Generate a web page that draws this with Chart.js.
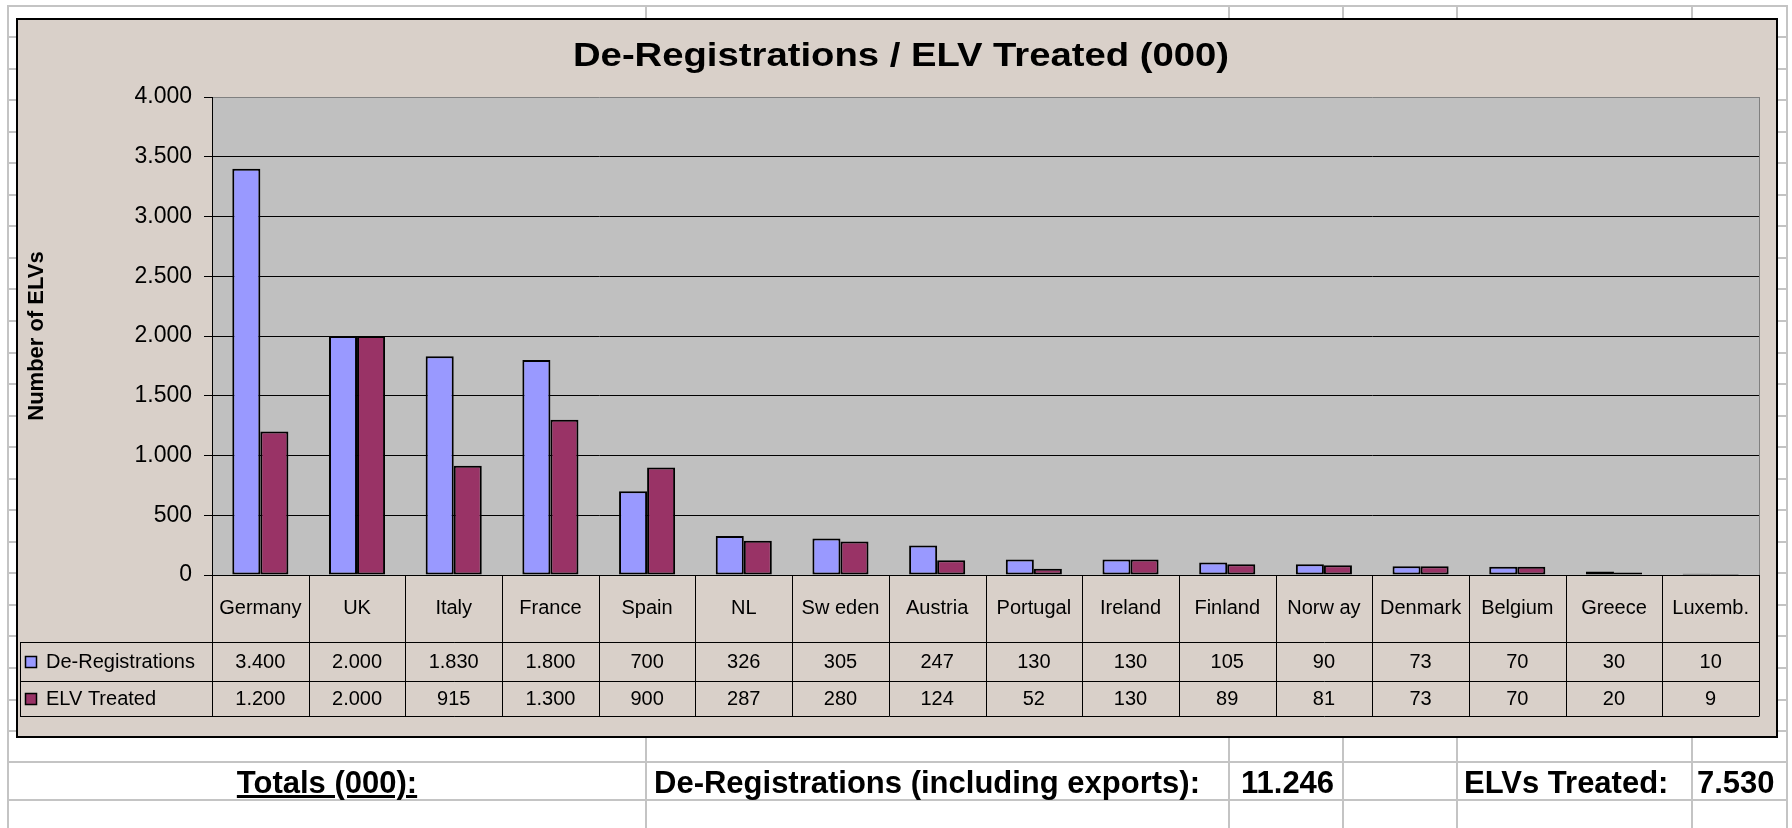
<!DOCTYPE html>
<html>
<head>
<meta charset="utf-8">
<script src="https://cdn.jsdelivr.net/npm/chart.js@4/dist/chart.umd.min.js"></script>
<style>
  html, body { margin: 0; padding: 0; background: #fff; width: 1792px; height: 828px; overflow: hidden;
               font-family: "Liberation Sans", Arial, sans-serif; }
  #sheet { position: absolute; left: 0; top: 0; width: 1792px; height: 828px; }
  .hl { position: absolute; height: 2px; background: #c4c4c4; }
  .vl { position: absolute; width: 2px; background: #c4c4c4; }
  #chart { position: absolute; left: 0; top: 0; }
  .tot { position: absolute; top: 764px; height: 38px; line-height: 38px; font-weight: bold;
         font-size: 31px; color: #000; white-space: nowrap; }
</style>
</head>
<body>
<div id="sheet"></div>
<canvas id="chart" width="1792" height="828"></canvas>
<div class="tot" style="left:8px;width:638px;text-align:center;text-decoration:underline">Totals (000):</div>
<div class="tot" style="left:654px">De-Registrations (including exports):</div>
<div class="tot" id="tot-dereg" style="left:1241px"></div>
<div class="tot" style="left:1464px">ELVs Treated:</div>
<div class="tot" id="tot-elv" style="left:1697px"></div>

<script>
const countries = ['Germany', 'UK', 'Italy', 'France', 'Spain', 'NL', 'Sw eden', 'Austria',
                   'Portugal', 'Ireland', 'Finland', 'Norw ay', 'Denmark', 'Belgium', 'Greece', 'Luxemb.'];
const deRegistrations = [3400, 2000, 1830, 1800, 700, 326, 305, 247, 130, 130, 105, 90, 73, 70, 30, 10];
const elvTreated      = [1200, 2000, 915, 1300, 900, 287, 280, 124, 52, 130, 89, 81, 73, 70, 20, 9];
const yTicks = [0, 500, 1000, 1500, 2000, 2500, 3000, 3500, 4000];

const FONT = '"Liberation Sans", Arial, sans-serif';
const BLUE = '#9999FF';
const MAROON = '#993366';

// dot as thousands separator, like the source sheet
const fmt = v => String(v).replace(/\B(?=(\d{3})+(?!\d))/g, '.');
const sum = arr => arr.reduce((s, v) => s + v, 0);

document.getElementById('tot-dereg').textContent = fmt(sum(deRegistrations));
document.getElementById('tot-elv').textContent = fmt(sum(elvTreated));

// ── Spreadsheet grid behind the chart ──────────────────────────────────────
(function drawSheet() {
  const sheet = document.getElementById('sheet');
  const rows = [5];
  for (let k = 0; k <= 22; k++) rows.push(Math.round(36 + 31.55 * k));
  rows.push(761, 799);
  const cols = [7, 645, 1228, 1342, 1456, 1691, 1786];
  for (const y of rows) {
    const d = document.createElement('div');
    d.className = 'hl';
    d.style.cssText = `left:7px;width:1781px;top:${y}px`;
    sheet.appendChild(d);
  }
  for (const x of cols) {
    const d = document.createElement('div');
    d.className = 'vl';
    d.style.cssText = `left:${x}px;top:5px;height:823px`;
    sheet.appendChild(d);
  }
})();

// ── Chart frame, plot background and title ─────────────────────────────────
const FRAME = { left: 17, top: 19, width: 1760, height: 718 };

const framePlugin = {
  id: 'frame',
  beforeDraw(chart) {
    const { ctx, chartArea: a } = chart;
    ctx.save();
    ctx.fillStyle = '#D9D0C9';
    ctx.fillRect(FRAME.left, FRAME.top, FRAME.width, FRAME.height);
    ctx.strokeStyle = '#000';
    ctx.lineWidth = 2;
    ctx.strokeRect(FRAME.left, FRAME.top, FRAME.width, FRAME.height);
    ctx.fillStyle = '#C0C0C0';
    ctx.fillRect(a.left, a.top, a.right - a.left, a.bottom - a.top);

    // title, stretched a little to the width Excel gave it
    const title = 'De-Registrations / ELV Treated (000)';
    ctx.font = `bold 34px ${FONT}`;
    ctx.fillStyle = '#000';
    ctx.textAlign = 'center';
    ctx.textBaseline = 'alphabetic';
    const w = ctx.measureText(title).width;
    ctx.translate(901, 66);
    ctx.scale(656 / w, 1);
    ctx.fillText(title, 0, 0);
    ctx.restore();
  },
  beforeDatasetsDraw(chart) {
    const { ctx, chartArea: a } = chart;
    ctx.save();
    ctx.strokeStyle = '#808080';
    ctx.lineWidth = 1;
    ctx.beginPath();
    ctx.moveTo(a.right + 0.5, a.top);
    ctx.lineTo(a.right + 0.5, a.bottom);
    ctx.stroke();
    ctx.restore();
  },
};

// ── Data table under the plot ──────────────────────────────────────────────
const TABLE = { left: 20, catBottom: 642, row1Bottom: 681, bottom: 716 };

const tablePlugin = {
  id: 'dataTable',
  afterDraw(chart) {
    const { ctx, chartArea: a } = chart;
    const x = chart.scales.x;
    const half = (x.getPixelForValue(1) - x.getPixelForValue(0)) / 2;
    ctx.save();
    ctx.strokeStyle = '#000';
    ctx.lineWidth = 1;
    ctx.beginPath();
    for (let i = 0; i < countries.length; i++) {
      const xl = Math.round(x.getPixelForValue(i) - half) + 0.5;
      ctx.moveTo(xl, a.bottom);
      ctx.lineTo(xl, TABLE.bottom);
    }
    const xr = Math.round(x.getPixelForValue(countries.length - 1) + half) + 0.5;
    ctx.moveTo(xr, a.bottom);
    ctx.lineTo(xr, TABLE.bottom);
    for (const y of [TABLE.catBottom, TABLE.row1Bottom, TABLE.bottom]) {
      ctx.moveTo(TABLE.left, y + 0.5);
      ctx.lineTo(xr, y + 0.5);
    }
    ctx.moveTo(TABLE.left + 0.5, TABLE.catBottom);
    ctx.lineTo(TABLE.left + 0.5, TABLE.bottom);
    ctx.stroke();

    ctx.fillStyle = '#000';
    ctx.font = `20px ${FONT}`;
    ctx.textAlign = 'center';
    ctx.textBaseline = 'middle';
    const rowY = [608, 662, 699];
    countries.forEach((c, i) => {
      const cx = x.getPixelForValue(i);
      ctx.fillText(c, cx, rowY[0]);
      ctx.fillText(fmt(deRegistrations[i]), cx, rowY[1]);
      ctx.fillText(fmt(elvTreated[i]), cx, rowY[2]);
    });

    // legend keys in the first column
    chart.data.datasets.forEach((ds, k) => {
      const y = rowY[k + 1];
      ctx.fillStyle = ds.backgroundColor;
      ctx.fillRect(25, y - 5.5, 11, 11);
      ctx.lineWidth = 1.5;
      ctx.strokeRect(25.5, y - 5.5, 11, 11);
      ctx.fillStyle = '#000';
      ctx.textAlign = 'left';
      ctx.fillText(ds.label, 46, y);
    });
    ctx.restore();
  },
};

new Chart(document.getElementById('chart'), {
  type: 'bar',
  data: {
    labels: countries,
    datasets: [
      { label: 'De-Registrations', data: deRegistrations, backgroundColor: BLUE,
        borderColor: '#000', borderWidth: 2, borderSkipped: false,
        categoryPercentage: 0.58, barPercentage: 1 },
      { label: 'ELV Treated', data: elvTreated, backgroundColor: MAROON,
        borderColor: '#000', borderWidth: 2, borderSkipped: false,
        categoryPercentage: 0.58, barPercentage: 1 },
    ],
  },
  options: {
    responsive: false,
    animation: false,
    devicePixelRatio: 1,
    layout: { padding: { left: 17, right: 33, top: 97, bottom: 112 } },
    plugins: {
      legend: { display: false },
      title: { display: false },
      tooltip: { enabled: false },
    },
    scales: {
      x: {
        grid: { display: false },
        border: { display: true, color: '#000', width: 1 },
        ticks: { display: false },
        afterFit(s) { s.height = 141; },
      },
      y: {
        min: 0,
        max: 4000,
        afterBuildTicks(s) { s.ticks = yTicks.map(v => ({ value: v })); },
        ticks: { color: '#000', font: { size: 23, family: FONT }, padding: 12, callback: v => fmt(v) },
        grid: {
          color: c => (c.tick && c.tick.value === 4000 ? '#808080' : '#000'),
          tickColor: '#000',
          tickLength: 8,
          lineWidth: 1,
        },
        border: { color: '#000', width: 1 },
        title: {
          display: true,
          text: 'Number of ELVs',
          color: '#000',
          font: { size: 22, weight: 'bold', family: FONT },
          padding: { top: 7, bottom: 0 },
        },
        afterFit(s) { s.width = 195; },
      },
    },
  },
  plugins: [framePlugin, tablePlugin],
});
</script>
</body>
</html>
